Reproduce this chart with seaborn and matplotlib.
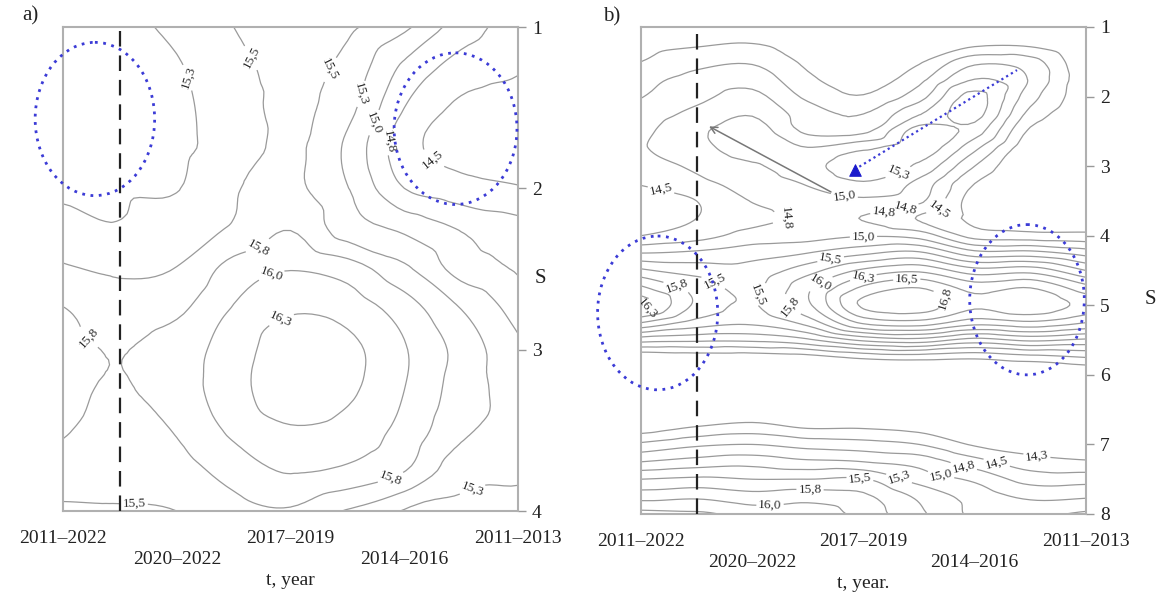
import matplotlib
matplotlib.use("Agg")
import numpy as np
import matplotlib.pyplot as plt
import matplotlib.tri as mtri
import seaborn as sns
from matplotlib.patches import Ellipse

# x positions of the five periods (0 = left edge, 4 = right edge)
periods = ["2011–2022", "2020–2022", "2017–2019", "2014–2016", "2011–2013"]
period_pos = [0, 1, 2, 3, 4]

t_grid = [0, 0.5, 1, 1.5, 2, 2.5, 3, 3.5, 4]

# panel a: S = 1 ... 4
s_grid_a = [1.0, 1.25, 1.5, 1.75, 2.0, 2.25, 2.5, 2.75, 3.0, 3.25, 3.5, 3.75, 4.0]
temp_a = [
    [15.15, 15.20, 15.30, 15.50, 15.62, 15.55, 15.30, 14.88, 14.60],
    [15.12, 15.15, 15.23, 15.42, 15.58, 15.42, 14.95, 14.65, 14.53],
    [15.10, 15.13, 15.20, 15.38, 15.56, 15.33, 14.75, 14.45, 14.38],
    [15.10, 15.12, 15.20, 15.36, 15.55, 15.20, 14.60, 14.40, 14.35],
    [15.20, 15.22, 15.24, 15.48, 15.55, 15.26, 14.75, 14.60, 14.52],
    [15.35, 15.27, 15.38, 15.53, 15.74, 15.36, 15.20, 14.98, 14.85],
    [15.53, 15.46, 15.51, 15.85, 15.99, 15.88, 15.55, 15.15, 14.97],
    [15.76, 15.62, 15.70, 16.02, 16.22, 16.15, 15.88, 15.50, 15.15],
    [15.82, 15.74, 15.88, 16.12, 16.40, 16.32, 16.02, 15.66, 15.30],
    [15.80, 15.73, 15.88, 16.15, 16.42, 16.30, 16.00, 15.63, 15.38],
    [15.77, 15.65, 15.77, 16.05, 16.22, 16.15, 15.92, 15.55, 15.40],
    [15.65, 15.62, 15.65, 15.85, 16.02, 15.95, 15.76, 15.35, 15.30],
    [15.45, 15.47, 15.50, 15.65, 15.72, 15.48, 15.23, 15.18, 15.15],
]

# panel b: S = 1 ... 8
s_grid_b = [1.0, 1.25, 1.5, 1.75, 2.0, 2.25, 2.5, 2.75, 3.0, 3.25, 3.5, 3.75,
            4.0, 4.25, 4.5, 4.75, 5.0, 5.25, 5.5, 5.75, 6.0, 6.25, 6.5, 6.75,
            7.0, 7.25, 7.5, 7.75, 8.0]
temp_b = [
    [14.00, 14.05, 14.05, 14.00, 13.95, 13.95, 13.95, 13.95, 13.90],
    [14.15, 14.22, 14.26, 14.15, 14.00, 14.05, 14.20, 14.20, 13.95],
    [14.25, 14.42, 14.47, 14.20, 14.05, 14.22, 14.68, 14.60, 14.00],
    [14.42, 14.58, 14.65, 14.30, 14.12, 14.42, 15.00, 14.72, 14.05],
    [14.49, 14.68, 14.82, 14.45, 14.27, 14.65, 15.33, 14.60, 14.05],
    [14.60, 14.82, 14.98, 14.62, 14.50, 14.98, 15.34, 14.42, 14.00],
    [14.68, 14.95, 15.12, 14.70, 14.70, 15.36, 15.12, 14.20, 13.95],
    [14.72, 14.92, 15.10, 15.02, 15.22, 15.38, 14.80, 14.05, 13.95],
    [14.62, 14.80, 14.97, 15.15, 15.42, 15.20, 14.50, 13.98, 13.95],
    [14.52, 14.68, 14.85, 15.02, 15.22, 14.92, 14.25, 13.95, 14.00],
    [14.30, 14.50, 14.76, 14.90, 14.95, 14.80, 14.12, 13.98, 14.05],
    [14.28, 14.50, 14.68, 14.78, 14.74, 14.48, 14.18, 14.05, 14.05],
    [14.50, 14.65, 14.85, 14.90, 14.98, 14.90, 14.40, 14.35, 14.33],
    [15.00, 15.05, 15.15, 15.25, 15.45, 15.55, 15.10, 15.10, 14.90],
    [15.55, 15.40, 15.35, 15.65, 16.05, 16.20, 15.85, 15.90, 15.50],
    [16.05, 15.65, 15.45, 15.95, 16.55, 16.75, 16.40, 16.50, 16.10],
    [16.35, 15.70, 15.48, 15.95, 16.80, 16.90, 16.55, 16.70, 16.40],
    [15.75, 15.40, 15.30, 15.60, 16.30, 16.40, 16.10, 16.20, 16.00],
    [14.85, 14.80, 14.80, 14.95, 15.30, 15.40, 15.15, 15.30, 15.20],
    [14.05, 14.10, 14.10, 14.15, 14.30, 14.35, 14.30, 14.40, 14.50],
    [13.85, 13.85, 13.85, 13.85, 13.85, 13.85, 13.90, 13.90, 14.00],
    [13.80, 13.80, 13.80, 13.80, 13.80, 13.80, 13.80, 13.80, 13.85],
    [13.90, 13.95, 14.00, 13.95, 13.95, 13.90, 13.85, 13.85, 13.85],
    [14.10, 14.26, 14.35, 14.22, 14.22, 14.15, 14.00, 13.95, 13.90],
    [14.55, 14.70, 14.75, 14.65, 14.60, 14.50, 14.22, 14.12, 14.05],
    [15.00, 15.10, 15.15, 15.05, 15.00, 14.90, 14.60, 14.35, 14.28],
    [15.50, 15.55, 15.50, 15.50, 15.52, 15.15, 14.95, 14.65, 14.65],
    [15.90, 15.95, 15.85, 15.90, 15.80, 15.45, 15.15, 14.95, 14.97],
    [16.35, 16.30, 16.15, 16.15, 15.90, 15.55, 15.20, 15.20, 15.30],
]

levels = [14.25, 14.5, 14.75, 15.0, 15.25, 15.5, 15.75, 16.0, 16.25, 16.5, 16.75]

# where the contour labels sit (t, S)
label_pts_a = [(1.11, 1.31), (1.63, 1.2), (2.31, 1.25), (2.65, 1.42), (2.76, 1.6),
               (2.92, 1.72), (3.25, 1.82), (1.69, 2.32), (1.82, 2.51), (1.91, 2.8),
               (0.28, 2.88), (0.63, 3.9), (2.9, 3.83), (3.58, 3.83)]
label_pts_b = [(0.19, 3.24), (1.34, 3.73), (1.82, 3.53), (2.3, 3.05), (2.18, 3.63),
               (2.39, 3.67), (2.69, 3.67), (2.0, 4.02), (1.7, 4.3), (1.04, 4.83),
               (1.38, 4.97), (1.63, 4.73), (2.0, 4.61), (2.39, 4.66), (2.78, 4.88),
               (0.05, 5.0), (0.3, 4.8), (0.62, 4.83),
               (1.16, 7.87), (1.52, 7.62), (1.97, 7.47), (2.33, 7.44), (2.69, 7.5),
               (2.9, 7.32), (3.2, 7.25), (3.56, 7.15)]

# migration track on panel b
track_t = [1.92, 3.38]
track_s = [3.05, 1.62]

sns.set_theme(style="white")
plt.rcParams["font.family"] = ["Liberation Serif", "DejaVu Serif"]

LINE = "#9a9a9a"
BLUE = "#3b3bd6"


def fmt_level(v):
    return f"{v + 1e-6:.1f}".replace(".", ",")


def style_axes(ax, s_ticks, xlabel):
    ax.set_xlim(0, 4)
    ax.set_xticks(period_pos)
    ax.set_xticklabels([p if i % 2 == 0 else "\n" + p for i, p in enumerate(periods)],
                       linespacing=1.25)
    ax.set_yticks(s_ticks)
    ax.set_yticklabels([str(s) for s in s_ticks])
    ax.yaxis.tick_right()
    ax.yaxis.set_label_position("right")
    ax.tick_params(axis="x", length=5, width=1, color="#999999", labelsize=14,
                   pad=9, labelcolor="#222222")
    ax.tick_params(axis="y", length=6, width=1, color="#999999", labelsize=14,
                   pad=4, labelcolor="#222222", right=True, left=False)
    for sp in ax.spines.values():
        sp.set_visible(True)
        sp.set_color("#b0b0b0")
        sp.set_linewidth(1.5)
    ax.set_xlabel(xlabel, fontsize=14, labelpad=3, color="#222222")
    ax.set_ylabel("S", fontsize=15, rotation=0, color="#222222")
    ax.axvline(0.5, color="#222222", lw=1.6, dashes=(7, 4), zorder=3)


def draw_field(ax, s_grid, temp, pts):
    tt, ss = np.meshgrid(t_grid, s_grid)
    z = np.array(temp).ravel()
    tri = mtri.Triangulation(tt.ravel(), ss.ravel())
    # let matplotlib's own refiner smooth the read-off grid for drawing
    interp = mtri.CubicTriInterpolator(tri, z, kind="geom")
    tri_f, z_f = mtri.UniformTriRefiner(tri).refine_field(z, triinterpolator=interp, subdiv=3)
    cs = ax.tricontour(tri_f, z_f, levels=levels, colors=LINE, linewidths=0.9)
    ax.clabel(cs, manual=pts, fmt=fmt_level, fontsize=9.5, inline=True,
              inline_spacing=2, colors="#2a2a2a")


fig = plt.figure(figsize=(11.57, 5.94), dpi=100)
ax_a = fig.add_axes([0.0545, 0.1397, 0.3933, 0.8148])
ax_b = fig.add_axes([0.554, 0.1347, 0.3846, 0.8199])

# ---- panel a
draw_field(ax_a, s_grid_a, temp_a, label_pts_a)
ax_a.set_ylim(4, 1)
style_axes(ax_a, [1, 2, 3, 4], "t, year")
ax_a.yaxis.set_label_coords(1.05, 0.50)
for c, w, h in [((0.28, 1.57), 1.05, 0.95), ((3.45, 1.63), 1.08, 0.94)]:
    ax_a.add_patch(Ellipse(c, w, h, fill=False, edgecolor=BLUE, lw=2,
                           linestyle=(0, (1, 2)), clip_on=False, zorder=4))

# ---- panel b
draw_field(ax_b, s_grid_b, temp_b, label_pts_b)
ax_b.set_ylim(8, 1)
style_axes(ax_b, [1, 2, 3, 4, 5, 6, 7, 8], "t, year.")
ax_b.yaxis.set_label_coords(1.145, 0.46)
for c, w, h in [((0.15, 5.11), 1.08, 2.21), ((3.47, 4.92), 1.03, 2.16)]:
    ax_b.add_patch(Ellipse(c, w, h, fill=False, edgecolor=BLUE, lw=2,
                           linestyle=(0, (1, 2)), clip_on=False, zorder=4))

sns.lineplot(x=track_t, y=track_s, ax=ax_b, color=BLUE, lw=1.6,
             linestyle=(0, (1, 1.5)), zorder=5)
sns.scatterplot(x=[track_t[0]], y=[track_s[0]], ax=ax_b, marker="^", s=70,
                color="#1a1acc", edgecolor="#1a1acc", zorder=6)
ax_b.annotate("", xy=(0.59, 2.41), xytext=(1.73, 3.39),
              arrowprops=dict(arrowstyle="->", color="#777777", lw=1.1))
ax_b.set_ylim(8, 1)
ax_b.set_xlim(0, 4)

fig.text(0.026, 0.974, "a)", fontsize=15, ha="center", va="center", color="#222222")
fig.text(0.529, 0.972, "b)", fontsize=15, ha="center", va="center", color="#222222")

fig.savefig("out.png", dpi=100)
